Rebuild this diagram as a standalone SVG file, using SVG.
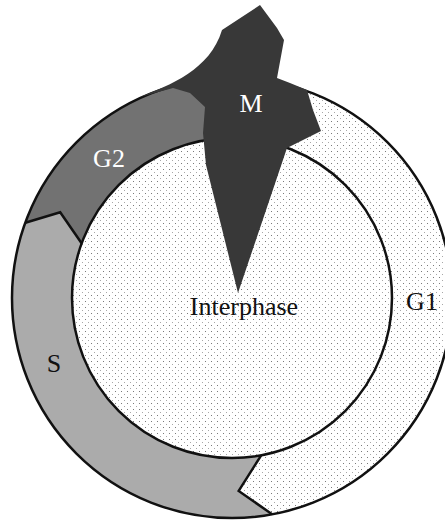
<svg xmlns="http://www.w3.org/2000/svg" width="445" height="521" viewBox="0 0 445 521">
  <defs>
    <pattern id="stipple" width="6" height="6" patternUnits="userSpaceOnUse">
      <rect width="6" height="6" fill="#ffffff"/>
      <rect x="1" y="1" width="1" height="1" fill="#7a7a7a"/>
      <rect x="4" y="4" width="1" height="1" fill="#a8a8a8"/>
    </pattern>
    <style>
      .lbl { font-family: "Liberation Serif", "DejaVu Serif", serif; font-size: 26px; text-anchor: middle; }
      .dark { fill: #111111; }
      .light { fill: #ffffff; }
      .edge { fill: none; stroke: #111111; stroke-width: 2.5; stroke-linejoin: miter; }
    </style>
  </defs>
  <rect width="445" height="521" fill="#ffffff"/>

  <g id="interphase">
    <circle cx="232" cy="298" r="160" fill="url(#stipple)"/>
  </g>

  <g id="G1">
    <path d="M307.2,91.3 A220,220 0 0 1 272.1,514.3 L238.7,490.9 L261.2,455.3 A160,160 0 0 0 286.7,147.6 L321.2,130.2 Z" fill="url(#stipple)"/>
  </g>

  <g id="S">
    <path d="M272.1,514.3 A220,220 0 0 1 25.3,222.8 L60.2,212.3 L81.6,243.3 A160,160 0 0 0 261.2,455.3 L238.7,490.9 Z" fill="#ababab"/>
  </g>

  <g id="G2">
    <path d="M25.3,222.8 A220,220 0 0 1 212.8,78.8 L218.0,138.6 A160,160 0 0 0 81.6,243.3 L60.2,212.3 Z" fill="#727272"/>
  </g>

  <g id="connectors">
    <circle class="edge" cx="232" cy="298" r="220"/>
    <circle class="edge" cx="232" cy="298" r="160"/>
    <path class="edge" d="M261.2,455.3 L238.7,490.9 L272.1,514.3"/>
    <path class="edge" d="M25.3,222.8 L60.2,212.3 L81.6,243.3"/>
  </g>

  <g id="M">
    <path d="M140,97 C170,85 210,70 222,30 L260,5 L277,28 L284,40 L277,78 L290,83 L307,90 L313,110 L321,131 L287,148 L238,293 L206,165 L203,133 L205,107 L190,93 L173,88 Z" fill="#383838"/>
    <text class="lbl light" x="251" y="112">M</text>
  </g>

  <g id="labels">
    <text class="lbl light" x="109" y="167">G2</text>
    <text class="lbl dark" x="54" y="372">S</text>
    <text class="lbl dark" x="244" y="315">Interphase</text>
    <text class="lbl dark" x="422" y="310">G1</text>
  </g>
</svg>
